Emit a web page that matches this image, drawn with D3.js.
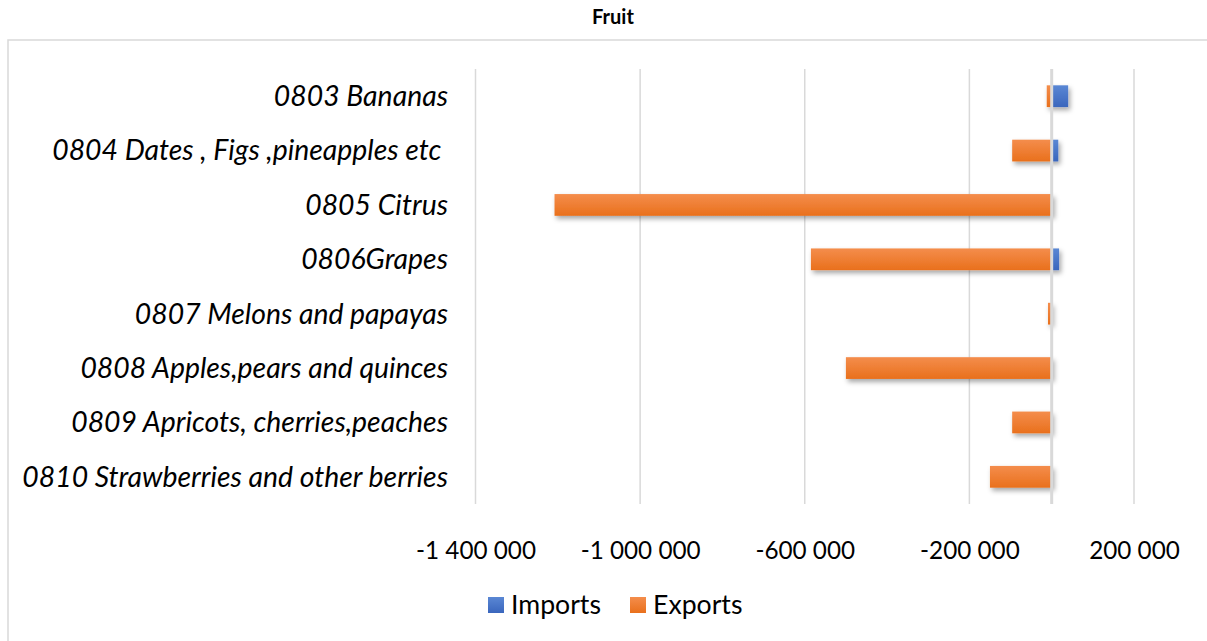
<!DOCTYPE html>
<html><head><meta charset="utf-8">
<script src="https://cdn.jsdelivr.net/npm/d3@7"></script>
<style>body{margin:0;background:#fff;} svg{display:block;}</style>
</head><body>
<svg id="chart" width="1207" height="641"></svg>
<script>
const categories = ["0803 Bananas","0804 Dates , Figs ,pineapples etc ","0805 Citrus","0806Grapes","0807 Melons and papayas","0808 Apples,pears and quinces","0809 Apricots, cherries,peaches","0810 Strawberries and other berries"];
const imports = [40000, 16000, 3000, 18000, 1000, 2000, 1000, 2000];
const exports = [-12000, -96000, -1208000, -585000, -9000, -500000, -96000, -150000];
const tickValues = [-1400000, -1000000, -600000, -200000, 200000];
const seriesNames = ["Imports", "Exports"];
const seriesColors = [["#5a87d4", "#3a66bd"], ["#f48d4c", "#e9701c"]];

const svg = d3.select("#chart");
const font = "Lato, 'Open Sans', sans-serif";

const defs = svg.append("defs");
seriesColors.forEach((c, i) => {
  const g = defs.append("linearGradient").attr("id", "grad" + i).attr("x1", 0).attr("y1", 0).attr("x2", 0).attr("y2", 1);
  g.append("stop").attr("offset", "0%").attr("stop-color", c[0]);
  g.append("stop").attr("offset", "100%").attr("stop-color", c[1]);
});
const f = defs.append("filter").attr("id", "shadow").attr("x", "-20%").attr("y", "-50%").attr("width", "140%").attr("height", "220%");
f.append("feDropShadow").attr("dx", 2).attr("dy", 3).attr("stdDeviation", 2.5).attr("flood-color", "#000").attr("flood-opacity", 0.35);

// outer border
svg.append("rect").attr("x", 8).attr("y", 40).attr("width", 1220).attr("height", 620)
  .attr("fill", "none").attr("stroke", "#d9d9d9").attr("stroke-width", 1.5);

// title
svg.append("text").attr("x", 613).attr("y", 24).attr("text-anchor", "middle")
  .attr("font-family", font).attr("font-weight", "bold").attr("font-size", 20).attr("fill", "#000").text("Fruit");

const x = d3.scaleLinear().domain([-1400000, 200000]).range([475.5, 1134]);
const y = d3.scaleBand().domain(categories).range([69, 504]).paddingInner(0.6).paddingOuter(0.3);

// gridlines
svg.append("g").selectAll("line").data(tickValues).join("line")
  .attr("x1", d => x(d)).attr("x2", d => x(d)).attr("y1", 69).attr("y2", 504)
  .attr("stroke", "#d9d9d9").attr("stroke-width", 1.5);

// bars
const barG = svg.append("g").attr("filter", "url(#shadow)");
[imports, exports].forEach((vals, si) => {
  barG.append("g").selectAll("rect").data(vals).join("rect")
    .attr("x", d => x(Math.min(0, d)))
    .attr("width", d => Math.abs(x(d) - x(0)))
    .attr("y", (d, i) => y(categories[i]))
    .attr("height", y.bandwidth())
    .attr("fill", `url(#grad${si})`);
});

// zero axis line
svg.append("line").attr("x1", x(0)).attr("x2", x(0)).attr("y1", 69).attr("y2", 504)
  .attr("stroke", "#d9d9d9").attr("stroke-width", 3);

// category labels
const labG = svg.append("g");
const labs = labG.selectAll("text").data(categories).join("text")
  .attr("x", 448).attr("y", d => y(d) + y.bandwidth() / 2)
  .attr("dy", "0.35em").attr("text-anchor", "end")
  .attr("font-family", font).attr("font-style", "italic").attr("font-size", 20).attr("fill", "#000")
  .style("white-space", "pre")
  .text(d => d);
let maxW = 0;
labs.each(function () { maxW = Math.max(maxW, this.getComputedTextLength()); });
labs.attr("font-size", 20 * 426 / maxW);

// tick labels
const locale = d3.formatLocale({decimal: ".", thousands: " ", grouping: [3], currency: ["", ""], minus: "-"});
const xAxis = d3.axisBottom(x).tickValues(tickValues).tickSize(0).tickPadding(0)
  .tickFormat(locale.format(","));
const axG = svg.append("g").attr("transform", "translate(0,542)").call(xAxis);
axG.select(".domain").remove();
axG.selectAll("text").attr("font-family", font).attr("font-size", 20).attr("fill", "#000").attr("dy", "0.71em");
const tw = axG.selectAll("text").nodes()[0].getComputedTextLength();
axG.selectAll("text").attr("font-size", 20 * 120 / tw);

// legend
const leg = svg.append("g");
const legX = [488, 630];
seriesNames.forEach((n, i) => {
  leg.append("rect").attr("x", legX[i]).attr("y", 597).attr("width", 16).attr("height", 16).attr("fill", `url(#grad${i})`);
  leg.append("text").attr("x", legX[i] + 23).attr("y", 605).attr("dy", "0.35em")
    .attr("font-family", font).attr("font-size", 20).attr("fill", "#000").text(n);
});
const lt = leg.select("text").node().getComputedTextLength();
leg.selectAll("text").attr("font-size", 20 * 90 / lt);
</script>
</body></html>
